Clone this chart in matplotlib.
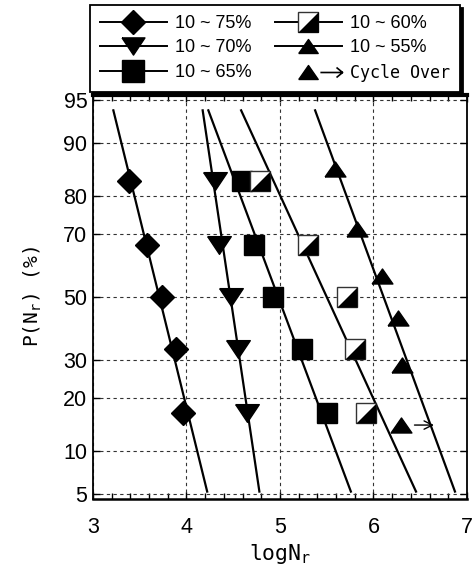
import math
import numpy as np
import matplotlib
matplotlib.use("Agg")
import matplotlib.pyplot as plt
import matplotlib.ticker as mticker
from matplotlib.lines import Line2D
from matplotlib.path import Path
from matplotlib.legend_handler import HandlerTuple
from matplotlib.transforms import ScaledTranslation
from statistics import NormalDist

plt.rcParams["font.family"] = ["Liberation Sans", "DejaVu Sans"]
plt.rcParams["mathtext.fontset"] = "custom"
plt.rcParams["mathtext.rm"] = "DejaVu Sans Mono"

# ---- data ----
labels = ["10 ~ 75%", "10 ~ 70%", "10 ~ 65%", "10 ~ 60%", "10 ~ 55%"]

p5 = [83.3, 66.7, 50.0, 33.3, 16.7]
p6 = [85.7, 71.4, 57.1, 42.9, 28.6, 14.3]

logn_75 = [3.39, 3.58, 3.735, 3.89, 3.96]
logn_70 = [4.30, 4.35, 4.48, 4.55, 4.65]
logn_65 = [4.59, 4.72, 4.92, 5.24, 5.50]
logn_60 = [4.79, 5.30, 5.72, 5.80, 5.92]
logn_55 = [5.59, 5.82, 6.09, 6.26, 6.30, 6.29]
runout_55 = [False, False, False, False, False, True]

# fitted normal lines: logN at P = 50 % and spread per unit z
fit_mean = [3.709, 4.470, 4.98, 5.500, 6.108]
fit_std = [0.316, 0.191, 0.48, 0.589, 0.471]
fit_p_range = [94.0, 5.25]

yticks = [5, 10, 20, 30, 50, 70, 80, 90, 95]

# ---- normal probability scale ----
nd = NormalDist()
_ppf = np.vectorize(lambda v: nd.inv_cdf(v), otypes=[float])
_erf = np.vectorize(math.erf, otypes=[float])


def fwd(p):
    p = np.clip(np.asarray(p, dtype=float) / 100.0, 1e-9, 1 - 1e-9)
    return _ppf(p)


def inv(z):
    return 50.0 * (1.0 + _erf(np.asarray(z, dtype=float) / math.sqrt(2)))


fig = plt.figure(figsize=(4.74, 5.76), dpi=100)
ax = fig.add_axes([0.1962, 0.1337, 0.789, 0.7014])
ax.set_yscale("function", functions=(fwd, inv))
ax.set_xlim(3, 7)
ax.set_ylim(4.62, 95.38)

# fit lines
for mu, sd in zip(fit_mean, fit_std):
    pp = np.array(fit_p_range)
    xx = mu - sd * fwd(pp)
    ax.plot(xx, pp, color="k", lw=1.6, zorder=2)

# white-top / black-bottom square, drawn as square + lower-right triangle
half_tri = [(1, 1), (1, -1), (-1, -1), (1, 1)]
tri_dn = [(-1, 0.75), (1, 0.75), (0, -0.75), (-1, 0.75)]
tri_up = [(-1, -0.72), (1, -0.72), (0, 0.72), (-1, -0.72)]
arrow_path = Path([(-1, 0), (1, 0), (0.45, 0.45), (1, 0), (0.45, -0.45)],
                  [Path.MOVETO, Path.LINETO, Path.MOVETO, Path.LINETO, Path.LINETO])

mk = dict(ls="none", color="k", mec="k", zorder=4)
ax.plot(logn_75, p5, marker="D", ms=12.5, **mk)
ax.plot(logn_70, p5, marker=tri_dn, ms=17, **mk)
ax.plot(logn_65, p5, marker="s", ms=15, **mk)
ax.plot(logn_60, p5, marker="s", ms=14.5, mfc="white", mec="#333333", mew=1.0,
        ls="none", zorder=4)
ax.plot(logn_60, p5, marker=half_tri, ms=14.5, ls="none", color="k", mew=0, zorder=5)
ax.plot(logn_55, p6, marker=tri_up, ms=15, **mk)

# run-out arrows
for x, p, ro in zip(logn_55, p6, runout_55):
    if ro:
        t0 = ax.transData + ScaledTranslation(10 / 72, 0, fig.dpi_scale_trans)
        t1 = ax.transData + ScaledTranslation(24 / 72, 0, fig.dpi_scale_trans)
        ax.annotate("", xy=(x, p), xycoords=t1, xytext=(x, p), textcoords=t0,
                    arrowprops=dict(arrowstyle="->", lw=1.0, color="k",
                                    mutation_scale=15, shrinkA=0, shrinkB=0))

# axes styling
ax.set_yticks(yticks)
ax.yaxis.set_major_formatter(mticker.FuncFormatter(lambda v, pos: f"{v:g}"))
ax.yaxis.set_minor_locator(mticker.NullLocator())
ax.set_xticks([3, 4, 5, 6, 7])
ax.xaxis.set_minor_locator(mticker.MultipleLocator(0.2))
ax.tick_params(which="both", direction="in", top=True, right=True, labelsize=15.5)
ax.tick_params(which="major", length=5, width=1)
ax.tick_params(which="minor", length=4.5, width=1)
ax.tick_params(axis="x", pad=13)
ax.tick_params(axis="y", pad=4)

ax.grid(True, which="major", color="#333333", lw=0.8, ls=(0, (3, 3)))
ax.spines["top"].set_linewidth(3)
ax.spines["bottom"].set_linewidth(1.8)
ax.spines["left"].set_linewidth(1.3)
ax.spines["right"].set_linewidth(1.3)

ax.set_xlabel(r"logN$_\mathregular{r}$", fontsize=15.5, labelpad=3,
              family="DejaVu Sans Mono")
ax.set_ylabel(r"P(N$_\mathregular{r}$) (%)", fontsize=14, labelpad=14,
              family="DejaVu Sans Mono")

# legend
h75 = Line2D([], [], color="k", lw=1.4, marker="D", ms=12.5)
h70 = Line2D([], [], color="k", lw=1.4, marker=tri_dn, ms=16.5)
h65 = Line2D([], [], color="k", lw=1.4, marker="s", ms=15.5)
h60a = Line2D([], [], color="k", lw=1.4, marker="s", ms=15, mfc="white", mec="#333333", mew=1)
h60b = Line2D([], [], ls="none", color="k", marker=half_tri, ms=15, mew=0)
h55 = Line2D([], [], color="k", lw=1.4, marker=tri_up, ms=14)
hblank = Line2D([], [], ls="none")
htri = Line2D([], [], ls="none", color="k", marker=tri_up, ms=14)
harrow = Line2D([], [], ls="none", color="k", marker=arrow_path, ms=16,
                mfc="none", mew=1.2)

h60 = (h60a, h60b)
hcycle = (hblank, htri, harrow)
handles = [h75, h70, h65, h60, h55, hcycle]
leg_labels = labels + ["Cycle Over"]
leg = fig.legend(handles, leg_labels, ncol=2, loc="lower left",
                 bbox_to_anchor=(90 / 474, 1 - 92 / 576), borderaxespad=0,
                 fontsize=13, handlelength=3.7, handletextpad=0.45,
                 columnspacing=1.3, labelspacing=0.42, borderpad=0.55,
                 fancybox=False, edgecolor="k", framealpha=1,
                 shadow={"color": "black", "alpha": 1},
                 handler_map={h60: HandlerTuple(ndivide=1),
                              hcycle: HandlerTuple(ndivide=None, pad=0)})
leg.get_frame().set_linewidth(1.3)
leg.get_texts()[-1].set_family("DejaVu Sans Mono")
leg.get_texts()[-1].set_fontsize(12)

fig.savefig("out.png", dpi=100)
